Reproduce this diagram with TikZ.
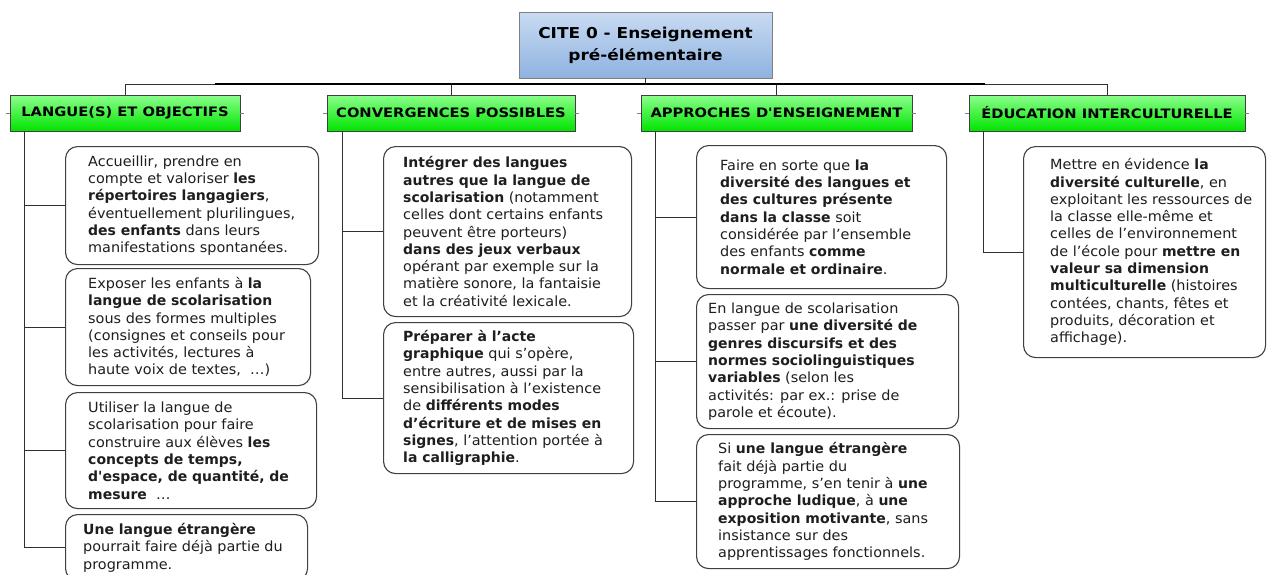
\documentclass[tikz,border=0pt]{standalone}
\usepackage{fontspec}
\setmainfont{DejaVu Sans}[FakeStretch=1.13, Ligatures=TeXOff]
\newfontfamily\rgfont{DejaVu Sans}[FakeStretch=1.03, Ligatures=TeXOff]
\newfontfamily\bbfont{DejaVu Sans}[FakeStretch=1.0, Ligatures=TeXOff]
\newcommand\bt[1]{{\bbfont\bfseries #1}}
\definecolor{boxline}{HTML}{404040}
\definecolor{txt}{HTML}{1E1E1E}
\definecolor{rootT}{HTML}{C9DBF2}
\definecolor{rootB}{HTML}{8EB2E0}
\definecolor{greenT}{HTML}{8CFF8C}
\definecolor{greenB}{HTML}{00E400}
\definecolor{conn}{HTML}{303030}
% #1 name, #2 x, #3 y, #4 width, #5 height, #6 text indent, #7 text
\newcommand\mkbox[7]{%
  \node[box, minimum width=#4pt, minimum height=#5pt] (#1) at (#2,#3) {};
  \node[boxtext] (#1t) at ([xshift=#6pt]#1.west) {#7};}
\begin{document}
\begin{tikzpicture}[x=1pt,y=-1pt,
  box/.style={draw=boxline, line width=1.1pt, rounded corners=12pt, fill=white, anchor=north west, inner sep=0pt},
  boxtext/.style={anchor=west, align=left, inner sep=0pt, font={\rgfont\fontsize{14}{17.3}\selectfont\let\textbf\bt}, text=txt},
  head/.style={draw=boxline, line width=0.9pt, top color=greenT, bottom color=greenB, minimum height=36pt, inner sep=0pt, font=\bfseries\fontsize{13}{16}\selectfont, text=black},
  rootbox/.style={draw=gray, line width=0.9pt, top color=rootT, bottom color=rootB, minimum width=253pt, minimum height=66pt, align=center, inner sep=0pt, font=\bfseries\fontsize{15}{22}\selectfont, text=black},
  cn/.style={draw=conn, line width=0.9pt},
  stub/.style={draw=gray, line width=0.7pt}]
\useasboundingbox (0,0) rectangle (1268,574);

% root
\node[rootbox] (root) at (645.5,45) {CITE 0 - Enseignement\\pré-élémentaire};

% headers
\node[head, minimum width=230pt] (h1) at (125,113) {LANGUE(S) ET OBJECTIFS};
\node[head, minimum width=248pt] (h2) at (451,113) {CONVERGENCES POSSIBLES};
\node[head, minimum width=271pt] (h3) at (776.5,113) {APPROCHES D'ENSEIGNEMENT};
\node[head, minimum width=276pt] (h4) at (1107,113) {ÉDUCATION INTERCULTURELLE};

% bus
\coordinate (bj) at (645.5,84);
\draw[cn] (root.south) -- (bj);
\draw[cn] (h1.north) |- (bj) -| (h4.north);
\draw[cn] (h2.north) -- (h2.north |- bj);
\draw[cn] (h3.north) -- (h3.north |- bj);
\draw[black, line width=2.2pt] (215,84) -- (700,84);
\draw[black, line width=1.6pt] (700,84) -- (985,84);

% header side stubs
\foreach \h in {h1,h2,h3,h4}{
  \draw[stub] (\h.west) -- ++(-4,0);
  \draw[stub] (\h.east) -- ++(4,0);
}

% column 1
\mkbox{a1}{65}{146}{253}{118}{23}{Accueillir, prendre en\\compte et valoriser \textbf{les}\\\textbf{répertoires langagiers},\\éventuellement plurilingues,\\\textbf{des enfants} dans leurs\\manifestations spontanées.}
\mkbox{a2}{65}{268}{245}{117}{23}{Exposer les enfants à \textbf{la}\\\textbf{langue de scolarisation}\\sous des formes multiples\\(consignes et conseils pour\\les activités, lectures à\\haute voix de textes,~~…)}
\mkbox{a3}{65}{392}{251}{116}{23}{Utiliser la langue de\\scolarisation pour faire\\construire aux élèves \textbf{les}\\\textbf{concepts de temps,}\\\textbf{d'espace, de quantité, de}\\\textbf{mesure}~~…}
\mkbox{a4}{65}{514}{242}{66}{18}{\textbf{Une langue étrangère}\\pourrait faire déjà partie du\\programme.}
\coordinate (k1) at (24,131);
\draw[cn] (k1) |- (a4.west);
\foreach \b in {a1,a2,a3}{\draw[cn] (k1 |- \b.west) -- (\b.west);}

% column 2
\mkbox{b1}{383}{146}{248}{170}{20}{\textbf{Intégrer des langues}\\\textbf{autres que la langue de}\\\textbf{scolarisation} (notamment\\celles dont certains enfants\\peuvent être porteurs)\\\textbf{dans des jeux verbaux}\\opérant par exemple sur la\\matière sonore, la fantaisie\\et la créativité lexicale.}
\mkbox{b2}{383}{322}{250}{151}{20}{\textbf{Préparer à l’acte}\\\textbf{graphique} qui s’opère,\\entre autres, aussi par la\\sensibilisation à l’existence\\de \textbf{différents modes}\\\textbf{d’écriture et de mises en}\\\textbf{signes}, l’attention portée à\\\textbf{la calligraphie}.}
\coordinate (k2) at (342,131);
\draw[cn] (k2) |- (b2.west);
\draw[cn] (k2 |- b1.west) -- (b1.west);

% column 3
\mkbox{c1}{696}{145}{250}{143}{24}{Faire en sorte que \textbf{la}\\\textbf{diversité des langues et}\\\textbf{des cultures présente}\\\textbf{dans la classe} soit\\considérée par l’ensemble\\des enfants \textbf{comme}\\\textbf{normale et ordinaire}.}
\mkbox{c2}{696}{294}{262}{134}{12}{En langue de scolarisation\\passer par \textbf{une diversité de}\\\textbf{genres discursifs et des}\\\textbf{normes sociolinguistiques}\\\textbf{variables} (selon les\\activités: par ex.: prise de\\parole et écoute).}
\mkbox{c3}{696}{434}{263}{134}{22}{Si \textbf{une langue étrangère}\\fait déjà partie du\\programme, s’en tenir à \textbf{une}\\\textbf{approche ludique}, à \textbf{une}\\\textbf{exposition motivante}, sans\\insistance sur des\\apprentissages fonctionnels.}
\coordinate (k3) at (655,131);
\draw[cn] (k3) |- (c3.west);
\foreach \b in {c1,c2}{\draw[cn] (k3 |- \b.west) -- (\b.west);}

% column 4
\mkbox{d1}{1023}{146}{242}{211}{27}{Mettre en évidence \textbf{la}\\\textbf{diversité culturelle}, en\\exploitant les ressources de\\la classe elle-même et\\celles de l’environnement\\de l’école pour \textbf{mettre en}\\\textbf{valeur sa dimension}\\\textbf{multiculturelle} (histoires\\contées, chants, fêtes et\\produits, décoration et\\affichage).}
\coordinate (k4) at (983,131);
\draw[cn] (k4) |- (d1.west);
\end{tikzpicture}
\end{document}
